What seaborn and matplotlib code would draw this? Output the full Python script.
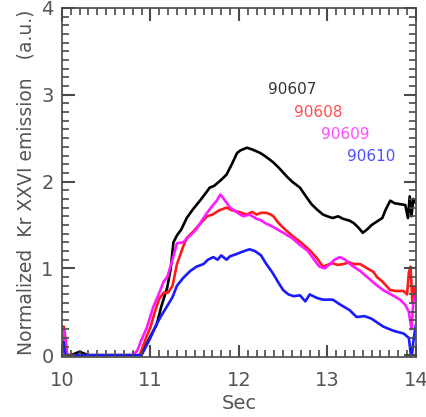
import matplotlib
matplotlib.use("Agg")
import matplotlib.pyplot as plt
from matplotlib.ticker import AutoMinorLocator, MultipleLocator
import pandas as pd
import seaborn as sns

# %% Data (time in s, normalized emission)
shots = ["90607", "90608", "90609", "90610"]
colors = ["#000000", "#ff1a1a", "#ff1aff", "#1a1aff"]
text_colors = ["#333333", "#ff4d4d", "#ff4dff", "#4d4dff"]

t_90607 = [10.0, 10.02, 10.05, 10.1, 10.15, 10.2, 10.25, 10.3, 10.88, 10.95, 11.0, 11.07,
           11.12, 11.19, 11.23, 11.26, 11.3, 11.35, 11.41, 11.48, 11.56, 11.62, 11.67, 11.72,
           11.8, 11.86, 11.92, 11.98, 12.02, 12.09, 12.15, 12.24, 12.3, 12.39, 12.45, 12.54,
           12.6, 12.69, 12.75, 12.82, 12.88, 12.95, 13.0, 13.06, 13.12, 13.18, 13.25, 13.3,
           13.35, 13.4, 13.45, 13.5, 13.56, 13.62, 13.66, 13.71, 13.76, 13.82, 13.88, 13.91,
           13.93, 13.95, 13.97, 14.0]
y_90607 = [0.2, 0.05, 0.0, 0.0, 0.02, 0.04, 0.02, 0.0, 0.0, 0.12, 0.22, 0.35,
           0.55, 0.78, 1.0, 1.3, 1.38, 1.45, 1.58, 1.68, 1.78, 1.86, 1.93, 1.95,
           2.02, 2.08, 2.2, 2.33, 2.36, 2.39, 2.37, 2.33, 2.29, 2.22, 2.16, 2.06,
           2.0, 1.93, 1.84, 1.74, 1.68, 1.62, 1.6, 1.58, 1.6, 1.57, 1.55, 1.52,
           1.47, 1.41, 1.45, 1.5, 1.54, 1.58, 1.68, 1.78, 1.75, 1.74, 1.73, 1.58,
           1.83, 1.6, 1.8, 1.75]

t_90608 = [10.0, 10.02, 10.04, 10.06, 10.1, 10.88, 10.95, 11.0, 11.05, 11.1, 11.15, 11.2,
           11.25, 11.3, 11.37, 11.41, 11.48, 11.55, 11.64, 11.7, 11.78, 11.86, 11.92, 12.0,
           12.09, 12.15, 12.2, 12.25, 12.31, 12.36, 12.39, 12.45, 12.52, 12.61, 12.7, 12.8,
           12.88, 12.95, 13.0, 13.05, 13.12, 13.18, 13.25, 13.3, 13.37, 13.45, 13.52, 13.56,
           13.62, 13.71, 13.78, 13.86, 13.9, 13.92, 13.94, 13.96, 13.98, 14.0]
y_90608 = [0.0, 0.33, 0.2, 0.0, 0.0, 0.0, 0.2, 0.32, 0.5, 0.65, 0.72, 0.72,
           0.8, 1.05, 1.25, 1.35, 1.42, 1.5, 1.6, 1.62, 1.67, 1.7, 1.67, 1.65,
           1.62, 1.65, 1.62, 1.64, 1.64, 1.62, 1.6, 1.52, 1.45, 1.37, 1.3, 1.21,
           1.12, 1.02, 1.04, 1.06, 1.04, 1.05, 1.07, 1.05, 1.05, 1.0, 0.96, 0.9,
           0.85, 0.75, 0.74, 0.74, 0.7, 0.95, 1.02, 0.6, 0.78, 0.68]

t_90609 = [10.0, 10.02, 10.04, 10.06, 10.1, 10.38, 10.42, 10.8, 10.85, 10.9, 10.96, 11.03,
           11.1, 11.15, 11.19, 11.25, 11.3, 11.37, 11.45, 11.52, 11.58, 11.64, 11.7, 11.75,
           11.79, 11.83, 11.9, 12.0, 12.05, 12.12, 12.2, 12.24, 12.3, 12.4, 12.5, 12.6,
           12.69, 12.78, 12.85, 12.91, 12.97, 13.03, 13.08, 13.14, 13.2, 13.28, 13.37, 13.45,
           13.54, 13.63, 13.72, 13.82, 13.88, 13.92, 13.95, 13.97, 14.0]
y_90609 = [0.0, 0.3, 0.15, 0.0, 0.0, 0.0, 0.0, 0.0, 0.05, 0.18, 0.32, 0.55,
           0.72, 0.85, 0.9, 1.1, 1.29, 1.3, 1.38, 1.45, 1.55, 1.64, 1.72, 1.78,
           1.85, 1.8, 1.7, 1.63, 1.6, 1.62, 1.57, 1.56, 1.52, 1.47, 1.41, 1.35,
           1.27, 1.2, 1.1, 1.02, 1.0, 1.05, 1.1, 1.13, 1.1, 1.03, 0.97, 0.9,
           0.82, 0.75, 0.7, 0.64, 0.58, 0.5, 0.3, 0.6, 0.7]

t_90610 = [10.0, 10.02, 10.04, 10.9, 10.95, 11.0, 11.07, 11.12, 11.18, 11.25, 11.3, 11.37,
           11.45, 11.52, 11.6, 11.65, 11.71, 11.76, 11.8, 11.86, 11.9, 11.96, 12.01, 12.06,
           12.12, 12.18, 12.25, 12.31, 12.38, 12.45, 12.5, 12.56, 12.62, 12.69, 12.75, 12.8,
           12.88, 12.95, 13.06, 13.15, 13.25, 13.33, 13.42, 13.5, 13.63, 13.75, 13.86, 13.92,
           13.95, 13.97, 14.0]
y_90610 = [0.1, 0.15, 0.0, 0.0, 0.1, 0.2, 0.36, 0.45, 0.55, 0.67, 0.8, 0.89,
           0.97, 1.02, 1.05, 1.1, 1.13, 1.1, 1.15, 1.1, 1.14, 1.16, 1.18, 1.2,
           1.22, 1.2, 1.15, 1.05, 0.95, 0.83, 0.75, 0.7, 0.68, 0.69, 0.62, 0.7,
           0.66, 0.64, 0.64, 0.58, 0.52, 0.44, 0.45, 0.42, 0.33, 0.28, 0.25, 0.2,
           -0.05, 0.15, 0.35]

label_x = [12.6, 12.9, 13.2, 13.5]
label_y = [3.06, 2.8, 2.54, 2.29]

# %% Build long table
frames = []
for shot, t, y in zip(shots, [t_90607, t_90608, t_90609, t_90610],
                      [y_90607, y_90608, y_90609, y_90610]):
    frames.append(pd.DataFrame({"Sec": t, "Emission": y, "Shot": shot}))
data = pd.concat(frames, ignore_index=True)

# %% Plot
grey = "#555555"
tick_rc = {"axes.edgecolor": grey, "axes.linewidth": 1.3, "axes.axisbelow": False,
           "xtick.direction": "in", "ytick.direction": "in",
           "xtick.top": True, "xtick.bottom": True, "ytick.left": True, "ytick.right": True,
           "xtick.color": "#4a4a4a", "ytick.color": "#4a4a4a",
           "xtick.labelcolor": grey, "ytick.labelcolor": grey,
           "xtick.major.size": 9, "ytick.major.size": 9,
           "xtick.minor.size": 5, "ytick.minor.size": 5,
           "xtick.major.width": 1.5, "ytick.major.width": 1.5,
           "xtick.minor.width": 1.2, "ytick.minor.width": 1.2,
           "xtick.major.pad": 10, "ytick.major.pad": 6,
           "xtick.minor.visible": True, "ytick.minor.visible": True}
sns.set_style("ticks", tick_rc)
plt.rcParams.update(tick_rc)
plt.rcParams["font.family"] = ["DejaVu Sans"]
plt.rcParams["xtick.labelsize"] = 14
plt.rcParams["ytick.labelsize"] = 14

fig = plt.figure(figsize=(4.27, 4.17), dpi=100)
ax = fig.add_axes([0.145, 0.144, 0.829, 0.837])

sns.lineplot(data=data, x="Sec", y="Emission", hue="Shot", estimator=None,
             sort=False, palette=dict(zip(shots, colors)), linewidth=1.9,
             legend=False, ax=ax)

for shot, tc, lx, ly in zip(shots, text_colors, label_x, label_y):
    ax.text(lx, ly, shot, color=tc, fontsize=11, ha="center", va="center")

ax.set_xlim(10, 14)
ax.set_ylim(-0.02, 4)
ax.xaxis.set_major_locator(MultipleLocator(1))
ax.yaxis.set_major_locator(MultipleLocator(1))
ax.xaxis.set_minor_locator(AutoMinorLocator(10))
ax.yaxis.set_minor_locator(AutoMinorLocator(10))
ax.tick_params(which="both", direction="in", bottom=True, left=True, top=True, right=True)

ax.set_xlabel("Sec", fontsize=14, color=grey, labelpad=3)
ax.set_ylabel("Normalized  Kr XXVI emission   (a.u.)", fontsize=13.5, color=grey, labelpad=4)

fig.savefig("out.png", dpi=100)
